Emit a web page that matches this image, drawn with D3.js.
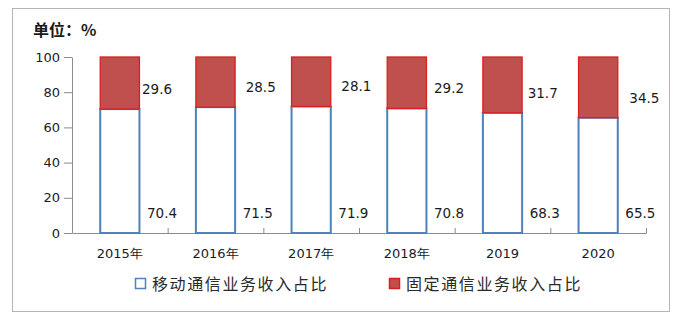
<!DOCTYPE html>
<html><head><meta charset="utf-8">
<script src="https://cdn.jsdelivr.net/npm/d3@7"></script>
<style>
html,body{margin:0;padding:0;background:#fff;}
svg{display:block;}
</style></head>
<body>
<svg id="chart" width="685" height="325"></svg>
<script>
const categories = ["2015年","2016年","2017年","2018年","2019","2020"];
const mobileShare = [70.4, 71.5, 71.9, 70.8, 68.3, 65.5];
const fixedShare  = [29.6, 28.5, 28.1, 29.2, 31.7, 34.5];
const yTicks = [0, 20, 40, 60, 80, 100];
const seriesNames = ["移动通信业务收入占比", "固定通信业务收入占比"];
const unitLabel = "单位：%";

// layout constants
const plot = {left: 72, right: 646, top: 57, bottom: 233};
const topLabelDx = [70, 78, 78, 75, 73, 79];
const numFont = "'DejaVu Sans', sans-serif";
const cjkFont = "'Noto Sans CJK SC', sans-serif";

const svg = d3.select("#chart");

// frame
svg.append("rect").attr("x", 12.5).attr("y", 8.5).attr("width", 657).attr("height", 303)
  .attr("fill", "#fff").attr("stroke", "#b4b4b4").attr("stroke-width", 1);

const x = d3.scaleBand().domain(categories).range([plot.left, plot.right]).padding(0);
const y = d3.scaleLinear().domain([0, 100]).range([plot.bottom, plot.top]);
const barW = x.bandwidth() * 0.41;
const bx = c => x(c) + (x.bandwidth() - barW) / 2;

// y axis
const yAxis = svg.append("g").attr("transform", `translate(${plot.left},0)`)
  .call(d3.axisLeft(y).tickValues(yTicks).tickSize(8).tickPadding(4).tickSizeOuter(0));
yAxis.select(".domain").attr("stroke", "#8c8c8c");
yAxis.selectAll(".tick line").attr("stroke", "#8c8c8c");
yAxis.selectAll(".tick text").attr("font-family", numFont).attr("font-size", 13).attr("fill", "#1a1a2a");

// x axis
const xAxis = svg.append("g").attr("transform", `translate(0,${plot.bottom})`)
  .call(d3.axisBottom(x).tickSize(0).tickPadding(16).tickSizeOuter(0));
xAxis.select(".domain").attr("stroke", "#8c8c8c");
xAxis.selectAll(".tick text").attr("font-family", numFont).attr("font-size", 13).attr("fill", "#1a1a2a");
// category boundary ticks (pointing up)
const bounds = categories.map(c => x(c) + x.bandwidth()).concat([x(categories[0])]);
svg.append("g").selectAll("line").data(bounds).join("line")
  .attr("x1", d => d + 0.5).attr("x2", d => d + 0.5)
  .attr("y1", plot.bottom - 5).attr("y2", plot.bottom)
  .attr("stroke", "#8c8c8c");

// bars
svg.append("g").selectAll("rect").data(categories).join("rect")
  .attr("x", c => bx(c)).attr("width", barW)
  .attr("y", (c, i) => y(mobileShare[i])).attr("height", (c, i) => y(0) - y(mobileShare[i]))
  .attr("fill", "#fff").attr("stroke", "#4f81bd").attr("stroke-width", 2);
svg.append("g").selectAll("rect").data(categories).join("rect")
  .attr("x", c => bx(c)).attr("width", barW)
  .attr("y", (c, i) => y(mobileShare[i] + fixedShare[i]))
  .attr("height", (c, i) => y(mobileShare[i]) - y(mobileShare[i] + fixedShare[i]))
  .attr("fill", "#c0504d").attr("stroke", "#d91f1f").attr("stroke-width", 1.3);

// data labels
svg.append("g").selectAll("text").data(categories).join("text")
  .attr("x", (c, i) => x(c) + topLabelDx[i])
  .attr("y", (c, i) => y(mobileShare[i]) - 20)
  .attr("dy", "0.36em")
  .attr("font-family", numFont).attr("font-size", 13.5).attr("fill", "#1a1a1a")
  .text((c, i) => fixedShare[i].toFixed(1));
svg.append("g").selectAll("text").data(categories).join("text")
  .attr("x", c => x(c) + 75)
  .attr("y", y(11.5))
  .attr("dy", "0.36em")
  .attr("font-family", numFont).attr("font-size", 13.5).attr("fill", "#1a1a1a")
  .text((c, i) => mobileShare[i].toFixed(1));

// unit label
svg.append("text").attr("x", 33).attr("y", 36)
  .attr("font-family", cjkFont).attr("font-size", 16).attr("font-weight", "bold").attr("fill", "#1a1a1a")
  .text(unitLabel);

// legend
const legend = svg.append("g");
const legX = [135, 389];
legend.selectAll("rect").data(seriesNames).join("rect")
  .attr("x", (d, i) => legX[i] + 0.5).attr("y", 278.5).attr("width", 10).attr("height", 10)
  .attr("fill", (d, i) => i === 0 ? "#fff" : "#c0504d")
  .attr("stroke", (d, i) => i === 0 ? "#4f81bd" : "#d91f1f").attr("stroke-width", 1.5);
legend.selectAll("text").data(seriesNames).join("text")
  .attr("x", (d, i) => legX[i] + 17).attr("y", 284).attr("dy", "0.36em")
  .attr("font-family", cjkFont).attr("font-size", 16).attr("letter-spacing", 1.6).attr("fill", "#2a2a2a")
  .text(d => d);
</script>
</body></html>
